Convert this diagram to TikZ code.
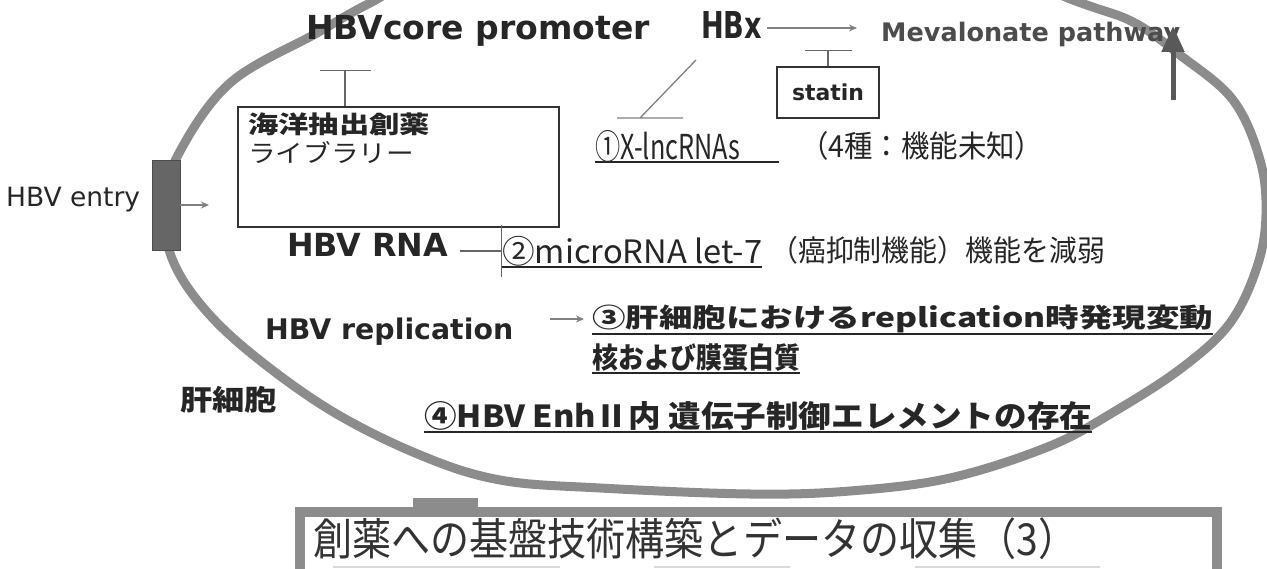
\documentclass[tikz,border=0pt]{standalone}
\usepackage{fontspec}
\usepackage{graphicx}
\setmainfont{DejaVu Sans}
\newfontfamily\jp{Noto Sans CJK JP}
\usetikzlibrary{arrows.meta}
\newcommand{\fw}[2]{\resizebox{#1pt}{!}{#2}}
\newcommand{\fwh}[3]{\resizebox*{#1pt}{#2pt}{#3}}
\begin{document}
\begin{tikzpicture}[x=1pt,y=-1pt,
  lbl/.style={inner sep=0pt, anchor=base west, text=black!85, font=\bfseries},
  jl/.style={inner sep=0pt, anchor=west, text=black!85, font=\jp},
  cell/.style={draw=black!45, line width=9pt},
  thinl/.style={draw=black!60, line width=1.3pt},
  tbar/.style={thinl, -{Bar[width=#1pt, line width=1.3pt]}},
  arr/.style={draw=black!50, line width=1.5pt, -{Stealth[length=8pt,width=7pt]}},
  ul/.style={draw=black!85, line width=1.2pt},
  frame/.style={draw=black!80, line width=1.3pt, inner sep=0pt},
]
\useasboundingbox (0,0) rectangle (1267,569);
\clip (0,0) rectangle (1267,569);

% cell membrane
\draw[cell] plot[smooth cycle, tension=0.6] coordinates {
 (165,205) (178,155) (230,83) (317,33) (370,3) (470,-45) (700,-85) (930,-55)
 (1073,0) (1133,22) (1180,55) (1233,100) (1260,160) (1266,215)
 (1257,267) (1230,323) (1183,367) (1117,410) (1050,446) (950,478) (850,491)
 (750,494) (600,488) (500,480) (420,455) (330,410) (247,350) (197,300) (170,253)};

% HBV entry
\node[fill=black!60, draw=black!70, minimum width=28pt, minimum height=90pt, inner sep=0pt] (entry) at (166,205) {};
\node[inner sep=0pt, anchor=base west, text=black!85] (entryt) at (6,207) {\fw{134}{HBV entry}};
\coordinate (entryin) at (209,205);
\draw[arr] (entry.east) -- (entryin);

% top labels
\node[lbl] (prom) at (306,40) {\fw{344}{HBVcore promoter}};
\node[lbl] (hbx) at (701,39) {\resizebox{61pt}{27pt}{HBx}};
\node[lbl, text=black!70] (meva) at (881,42) {\fw{299}{Mevalonate pathway}};
\draw[arr] ([xshift=5pt]hbx.east |- 0,28) -- ([xshift=-24pt]meva.west |- 0,28);
\coordinate (upa) at (1173,100);
\coordinate (upb) at (1173,26);
\draw[draw=black!65, line width=5pt, -{Triangle[length=26pt,width=22pt]}] (upa) -- (upb);

% statin
\node[frame, minimum width=102pt, minimum height=51pt, text=black!85] (statin) at (828,92.5) {\fw{72}{\bfseries statin}};
\coordinate (statbar) at (828,50);
\draw[tbar=47] (statin.north) -- (statbar);

% library
\node[frame, minimum width=321pt, minimum height=120pt] (lib) at (398.5,167) {};
\node[jl, font=\jp\bfseries] (lib1) at (248,124) {\fwh{182}{23}{海洋抽出創薬}};
\node[jl] (lib2) at (248,153) {\fwh{166}{22}{ライブラリー}};
\coordinate (pbar) at (345,70);
\draw[tbar=51] (lib.north -| pbar) -- (pbar);

% 1 X-lncRNAs
\node[jl] (r1) at (595,146) {\fwh{145}{32}{①X-lncRNAs}};
\node[jl] (r1b) at (800,146) {\fwh{243}{29}{（4種：機能未知）}};
\draw[ul] (595,162) -- (779,162);
\coordinate (xdiag) at (696,60);
\coordinate (xbar) at (640,118);
\draw[thinl, draw=black!50] (xdiag) -- (xbar) ([xshift=-23pt]xbar) -- ([xshift=43pt]xbar);

% HBV RNA
\node[lbl] (rna) at (287,257) {\fw{161}{HBV RNA}};
\node[jl] (mir) at (502,251) {\fwh{260}{30}{②microRNA let-7}};
\node[jl] (mirb) at (770,250) {\fwh{335}{28}{（癌抑制機能）機能を減弱}};
\draw[ul] (502,267) -- (762,267);
\draw[tbar=52] ([xshift=12pt]rna.east |- mir.west) -- (mir.west);

% replication
\node[lbl] (rep) at (265,340) {\fw{248}{HBV replication}};
\node[jl, font=\jp\bfseries] (r3) at (592,319) {\fwh{621}{28}{③肝細胞におけるreplication時発現変動}};
\node[jl, font=\jp\bfseries] (r3b) at (592,358) {\fwh{208}{28}{核および膜蛋白質}};
\draw[ul] (592,334) -- (1213,334);
\draw[ul] (592,373) -- (800,373);
\draw[arr] ([xshift=37pt]rep.east |- r3.west) -- ([xshift=-8pt]r3.west);

% 4
\node[jl, font=\jp\bfseries] (r4) at (424,416) {\fwh{668}{29}{④HBV EnhⅡ内 遺伝子制御エレメントの存在}};
\draw[ul] (424,432) -- (1092,432);

\node[jl, font=\jp\bfseries] (kan) at (180,400) {\fwh{97}{27}{肝細胞}};

% bottom box
\fill[black!45] (413,498) rectangle (478,508);
\draw[draw=black!45, line width=10pt] (300,600) -- (300,512) -- (1217,512) -- (1217,600);
\node[jl, text=black!80] (title) at (313,539) {\fwh{764}{42}{創薬への基盤技術構築とデータの収集（3）}};
\draw[black!15, line width=2pt] (333,567) -- (560,567) (654,567) -- (790,567) (915,567) -- (1100,567);
\end{tikzpicture}
\end{document}
